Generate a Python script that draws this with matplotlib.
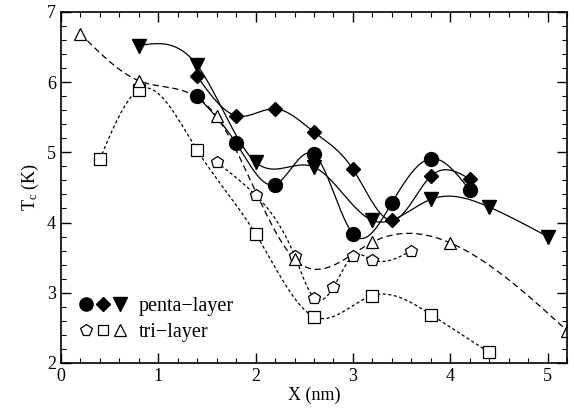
import numpy as np
import matplotlib.pyplot as plt
from matplotlib.lines import Line2D
from matplotlib.legend_handler import HandlerTuple
from matplotlib.ticker import MultipleLocator

plt.rcParams['font.family'] = ['Liberation Serif', 'DejaVu Serif']
plt.rcParams['mathtext.fontset'] = 'custom'
plt.rcParams['mathtext.rm'] = 'Liberation Serif'
plt.rcParams['mathtext.it'] = 'Liberation Serif'

# penta-layer (filled symbols)
penta_circle_x = [1.4, 1.8, 2.2, 2.6, 3.0, 3.4, 3.8, 4.2]
penta_circle_y = [5.80, 5.13, 4.54, 4.97, 3.84, 4.28, 4.91, 4.46]
penta_diamond_x = [1.4, 1.8, 2.2, 2.6, 3.0, 3.4, 3.8, 4.2]
penta_diamond_y = [6.08, 5.52, 5.62, 5.29, 4.76, 4.03, 4.66, 4.62]
penta_tri_x = [0.8, 1.4, 2.0, 2.6, 3.2, 3.8, 4.4, 5.0]
penta_tri_y = [6.52, 6.24, 4.86, 4.79, 4.03, 4.33, 4.22, 3.80]

# tri-layer (open symbols)
tri_pent_x = [1.6, 2.0, 2.4, 2.6, 2.8, 3.0, 3.2, 3.6]
tri_pent_y = [4.86, 4.39, 3.53, 2.93, 3.08, 3.52, 3.47, 3.60]
tri_square_x = [0.4, 0.8, 1.4, 2.0, 2.6, 3.2, 3.8, 4.4]
tri_square_y = [4.90, 5.89, 5.03, 3.84, 2.66, 2.96, 2.69, 2.15]
tri_tri_x = [0.2, 0.8, 1.6, 2.4, 3.2, 4.0, 5.2]
tri_tri_y = [6.69, 6.02, 5.51, 3.48, 3.72, 3.71, 2.46]


def natural_spline(x, y, n=300):
    # plain natural cubic spline, no scipy here
    x = np.asarray(x, float)
    y = np.asarray(y, float)
    k = len(x)
    h = np.diff(x)
    A = np.zeros((k, k))
    b = np.zeros(k)
    A[0, 0] = 1
    A[-1, -1] = 1
    for i in range(1, k - 1):
        A[i, i - 1] = h[i - 1]
        A[i, i] = 2 * (h[i - 1] + h[i])
        A[i, i + 1] = h[i]
        b[i] = 6 * ((y[i + 1] - y[i]) / h[i] - (y[i] - y[i - 1]) / h[i - 1])
    M = np.linalg.solve(A, b)
    xs = np.linspace(x[0], x[-1], n)
    j = np.clip(np.searchsorted(x, xs) - 1, 0, k - 2)
    t0 = x[j + 1] - xs
    t1 = xs - x[j]
    hj = h[j]
    ys = (M[j] * t0**3 + M[j + 1] * t1**3) / (6 * hj) \
        + (y[j] / hj - M[j] * hj / 6) * t0 \
        + (y[j + 1] / hj - M[j + 1] * hj / 6) * t1
    return xs, ys


fig = plt.figure(figsize=(5.74, 4.09), dpi=100)
ax = fig.add_axes([0.106, 0.1125, 0.882, 0.8585])

long_dash = (0, (5, 3))
short_dash = (0, (2.5, 2))

# curves first, symbols on top
for xx, yy in [(penta_circle_x, penta_circle_y),
               (penta_diamond_x, penta_diamond_y),
               (penta_tri_x, penta_tri_y)]:
    ax.plot(*natural_spline(xx, yy), color='black', lw=0.9)

ax.plot(*natural_spline(tri_tri_x, tri_tri_y), color='black', lw=0.9, ls=long_dash)
ax.plot(*natural_spline(tri_square_x, tri_square_y), color='black', lw=0.9, ls=short_dash)
ax.plot(*natural_spline(tri_pent_x, tri_pent_y), color='black', lw=0.9, ls=short_dash)

ax.plot(penta_circle_x, penta_circle_y, 'o', ms=10, color='black', ls='none')
ax.plot(penta_diamond_x, penta_diamond_y, 'D', ms=7.5, color='black', ls='none')
ax.plot(penta_tri_x, penta_tri_y, 'v', ms=10, color='black', ls='none')

open_kw = dict(mfc='white', mec='black', mew=0.9, ls='none')
ax.plot(tri_pent_x, tri_pent_y, 'p', ms=9, **open_kw)
ax.plot(tri_square_x, tri_square_y, 's', ms=8, **open_kw)
ax.plot(tri_tri_x, tri_tri_y, '^', ms=9, **open_kw)

ax.set_xlim(0, 5.2)
ax.set_ylim(2, 7)
ax.xaxis.set_major_locator(MultipleLocator(1))
ax.xaxis.set_minor_locator(MultipleLocator(0.2))
ax.yaxis.set_major_locator(MultipleLocator(1))
ax.yaxis.set_minor_locator(MultipleLocator(0.2))
ax.tick_params(which='both', direction='in', top=True, right=True, labelsize=13)
ax.tick_params(which='major', length=7, width=1)
ax.tick_params(which='minor', length=3.5, width=0.8)
for s in ax.spines.values():
    s.set_linewidth(1.2)

ax.set_xlabel('X (nm)', fontsize=13, labelpad=1)
ax.set_ylabel(r'T$_{\rm c}$ (K)', fontsize=13, labelpad=4)

# legend with three symbols per row
h_penta = (Line2D([], [], marker='o', ms=9.5, color='black', ls='none'),
           Line2D([], [], marker='D', ms=7, color='black', ls='none'),
           Line2D([], [], marker='v', ms=9.5, color='black', ls='none'))
h_tri = (Line2D([], [], marker='p', ms=8.5, **open_kw),
         Line2D([], [], marker='s', ms=7, **open_kw),
         Line2D([], [], marker='^', ms=8.5, **open_kw))
ax.legend([h_penta, h_tri], ['penta\u2212layer', 'tri\u2212layer'],
          handler_map={tuple: HandlerTuple(ndivide=None, pad=0.15)},
          loc='center left', bbox_to_anchor=(0.0, 0.125), frameon=False,
          fontsize=14.5, handlelength=2.4, handletextpad=0.55, labelspacing=0.35)

fig.savefig('out.png', dpi=100)
